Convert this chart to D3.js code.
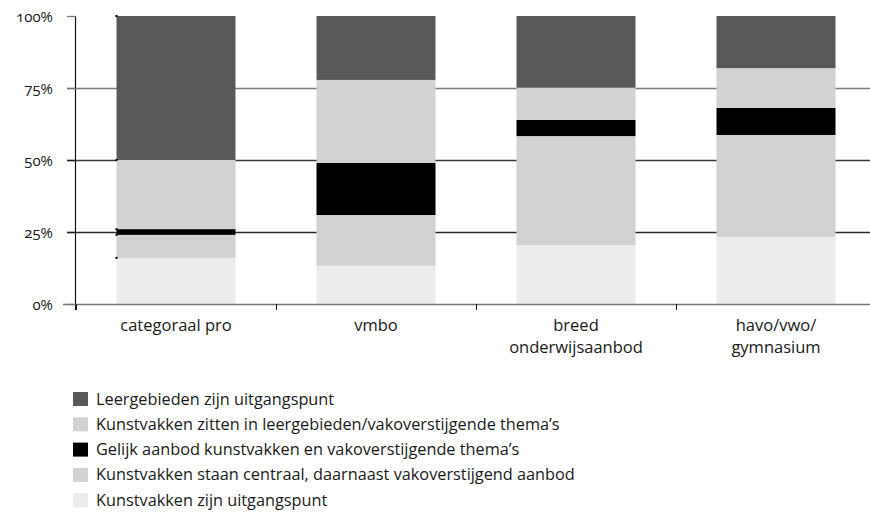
<!DOCTYPE html>
<html>
<head>
<meta charset="utf-8">
<script src="https://cdn.jsdelivr.net/npm/d3@7"></script>
<style>
  html, body { margin: 0; padding: 0; background: #fff; }
  svg { display: block; }
  text { font-family: "Open Sans", Lato, sans-serif; fill: #1a1a1a; }
  .ylab { font-variant-numeric: oldstyle-nums; font-feature-settings: "onum" 1; }
</style>
</head>
<body>
<svg id="chart" width="870" height="513"></svg>
<script>
// ---------- data ----------
const categories = ["categoraal pro", "vmbo", "breed onderwijsaanbod", "havo/vwo/ gymnasium"];
const categoryLines = [["categoraal pro"], ["vmbo"], ["breed", "onderwijsaanbod"], ["havo/vwo/", "gymnasium"]];
const seriesNames = [
  "Kunstvakken zijn uitgangspunt",
  "Kunstvakken staan centraal, daarnaast vakoverstijgend aanbod",
  "Gelijk aanbod kunstvakken en vakoverstijgende thema\u2019s",
  "Kunstvakken zitten in leergebieden/vakoverstijgende thema\u2019s",
  "Leergebieden zijn uitgangspunt"
];
const uitgangspunt = [16, 13.3, 20.5, 23.3];
const centraal     = [8, 17.6, 37.8, 35.4];
const gelijk       = [2, 18.1, 5.6, 9.4];
const zitten       = [24, 28.8, 11.2, 13.8];
const leergebieden = [50, 22.2, 24.9, 18.1];
const yTicks = [0, 25, 50, 75, 100];
const yTickLabels = ["0%", "25%", "50%", "75%", "100%"];
const colors = ["#ebeceb", "#d1d2d4", "#000000", "#d1d2d4", "#59595b"];

// ---------- layout ----------
const svg = d3.select("#chart");
const x0 = 76, bandW = 200;
const x = d3.scaleBand().domain(categories).range([x0, x0 + bandW * categories.length]).paddingInner(0).paddingOuter(0);
const y = d3.scaleLinear().domain([0, 100]).range([304, 16]);
const barW = 119;

const seriesValues = [uitgangspunt, centraal, gelijk, zitten, leergebieden];
const table = categories.map((c, i) => {
  const o = { cat: c };
  seriesNames.forEach((s, k) => o[s] = seriesValues[k][i]);
  return o;
});
const stacked = d3.stack().keys(seriesNames)(table);

// gridlines (behind bars)
const gridColors = { 25: "#2a2a2a", 50: "#3a3a3a", 75: "#7a7a7a", 100: "#7a7a7a" };
svg.append("g").selectAll("line").data(yTicks.filter(t => t > 0 && t < 100)).join("line")
  .attr("x1", 67).attr("x2", 870)
  .attr("y1", d => Math.round(y(d)) + 0.5).attr("y2", d => Math.round(y(d)) + 0.5)
  .attr("stroke", d => gridColors[d]).attr("stroke-width", 1.3);

// bars
svg.append("g").selectAll("g").data(stacked).join("g")
  .attr("fill", (d, i) => colors[i])
  .selectAll("rect").data(d => d).join("rect")
  .attr("x", d => x(d.data.cat) + (bandW - barW) / 2)
  .attr("width", barW)
  .attr("y", d => y(d[1]))
  .attr("height", d => y(d[0]) - y(d[1]));

// small corner marks on the first bar's left edge
svg.append("g").selectAll("rect").data(stacked.slice(0, 4).map(s => s[0][1]).concat([100])).join("rect")
  .attr("x", x(categories[0]) + (bandW - barW) / 2 - 1)
  .attr("y", d => y(d) - 1)
  .attr("width", 2).attr("height", 2).attr("fill", "#000");

// y axis
const yAxis = svg.append("g");
yAxis.append("line").attr("x1", 75.5).attr("x2", 75.5).attr("y1", 16).attr("y2", 310).attr("stroke", "#111").attr("stroke-width", 1.2);
yAxis.selectAll("line.tick").data(yTicks).join("line").attr("class", "tick")
  .attr("x1", 67).attr("x2", 76)
  .attr("y1", d => Math.round(y(d)) + 0.5).attr("y2", d => Math.round(y(d)) + 0.5)
  .attr("stroke", d => d === 0 || d === 100 || d === 75 ? "#777" : "#222").attr("stroke-width", 1.3);
yAxis.selectAll("text").data(yTicks).join("text").attr("class", "ylab")
  .attr("x", 53).attr("y", d => y(d) + 5.5)
  .attr("text-anchor", "end").attr("font-size", 15)
  .text((d, i) => yTickLabels[i]);

// x axis
const xAxis = svg.append("g");
xAxis.append("line").attr("x1", 63).attr("x2", 870).attr("y1", 304.5).attr("y2", 304.5).attr("stroke", "#777").attr("stroke-width", 1.6);
xAxis.selectAll("line.tick").data(categories).join("line").attr("class", "tick")
  .attr("x1", d => Math.round(x(d)) + 0.5).attr("x2", d => Math.round(x(d)) + 0.5)
  .attr("y1", 304).attr("y2", 310).attr("stroke", "#111");
const xl = xAxis.selectAll("text").data(categories).join("text")
  .attr("x", d => x(d) + bandW / 2).attr("y", 331)
  .attr("text-anchor", "middle").attr("font-size", 16.5);
xl.selectAll("tspan").data((d, i) => categoryLines[i]).join("tspan")
  .attr("x", function() { return this.parentNode.getAttribute("x"); })
  .attr("dy", (d, j) => j === 0 ? 0 : 22)
  .text(d => d);

// legend (top to bottom: reverse stacking order)
const legendOrder = d3.range(seriesNames.length).reverse();
const lg = svg.append("g").selectAll("g").data(legendOrder).join("g")
  .attr("transform", (d, i) => `translate(73, ${392 + i * 25.3})`);
lg.append("rect").attr("width", 15).attr("height", 14).attr("fill", d => colors[d]);
lg.append("text").attr("x", 23).attr("y", 12.5).attr("font-size", 16.3).text(d => seriesNames[d]);
</script>
</body>
</html>
